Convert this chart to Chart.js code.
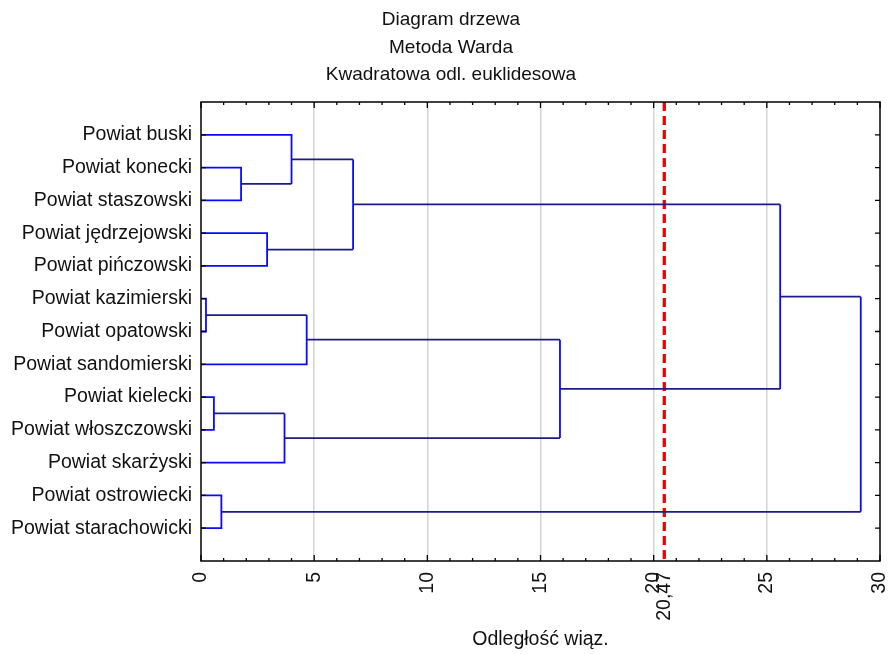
<!DOCTYPE html>
<html>
<head>
<meta charset="utf-8">
<script src="https://cdn.jsdelivr.net/npm/chart.js@4.4.1/dist/chart.umd.min.js"></script>
<style>
  html, body { margin: 0; padding: 0; background: #fff; }
  #wrap { width: 888px; height: 654px; }
</style>
</head>
<body>
<div id="wrap"><canvas id="myChart" width="888" height="654"></canvas></div>
<script>
// leaves, top to bottom
const leafLabels = [
    'Powiat buski', 'Powiat konecki', 'Powiat staszowski', 'Powiat jędrzejowski',
    'Powiat pińczowski', 'Powiat kazimierski', 'Powiat opatowski', 'Powiat sandomierski',
    'Powiat kielecki', 'Powiat włoszczowski', 'Powiat skarżyski', 'Powiat ostrowiecki',
    'Powiat starachowicki'
];
// merges: node ids 0-12 are leaves, every merge makes a new node (13, 14, ...)
const mergeLeft   = [1, 0, 3, 14, 5, 17, 8, 19, 18, 16, 11, 22];
const mergeRight  = [2, 13, 4, 15, 6, 7, 9, 10, 20, 21, 12, 23];
const mergeHeight = [1.77, 4.0, 2.92, 6.72, 0.22, 4.67, 0.57, 3.69, 15.86, 25.59, 0.9, 29.15];
const xTicks = [0, 5, 10, 15, 20, 25, 30];
const cutValue = 20.47;
const cutLabel = '20,47';
const titleLines = ['Diagram drzewa', 'Metoda Warda', 'Kwadratowa odl. euklidesowa'];

const font = "'Liberation Sans', Arial, sans-serif";
const blue = '#0a0aff';
const navy = '#1c1c86';

// node positions (row and height)
const nodeY = leafLabels.map((_, i) => i + 1);
const nodeH = leafLabels.map(() => 0);
mergeLeft.forEach(function(l, k) {
    const r = mergeRight[k];
    nodeY.push((nodeY[l] + nodeY[r]) / 2);
    nodeH.push(mergeHeight[k]);
});

const datasets = mergeLeft.map(function(l, k) {
    const r = mergeRight[k];
    const h = mergeHeight[k];
    const lInner = l >= leafLabels.length;
    const rInner = r >= leafLabels.length;
    return {
        data: [
            { x: nodeH[l], y: nodeY[l] },
            { x: h, y: nodeY[l] },
            { x: h, y: nodeY[r] },
            { x: nodeH[r], y: nodeY[r] }
        ],
        showLine: true,
        borderColor: blue,
        borderWidth: 1.8,
        pointRadius: 0,
        segment: {
            borderColor: function(ctx) {
                if (ctx.p0DataIndex === 0 && lInner) return navy;
                if (ctx.p0DataIndex === 2 && rInner) return navy;
                return blue;
            }
        }
    };
});

// cut line
datasets.push({
    data: [{ x: cutValue, y: 0 }, { x: cutValue, y: leafLabels.length + 1 }],
    showLine: true,
    borderColor: '#ee0000',
    borderWidth: 3.2,
    borderDash: [9, 5],
    pointRadius: 0
});

// frame, inside tick marks and the three-line title
const framePlugin = {
    id: 'frame',
    afterDatasetsDraw(chart) {
        const ctx = chart.ctx;
        const a = chart.chartArea;
        const xs = chart.scales.x;
        const ys = chart.scales.y;
        ctx.save();
        ctx.strokeStyle = '#000';
        ctx.lineWidth = 1.5;
        ctx.strokeRect(a.left, a.top, a.right - a.left, a.bottom - a.top);
        ctx.lineWidth = 1.3;
        ctx.beginPath();
        for (let v = 0; v <= 30; v++) {
            const px = xs.getPixelForValue(v);
            const len = v % 5 === 0 ? 6 : 3;
            ctx.moveTo(px, a.top); ctx.lineTo(px, a.top + len);
            ctx.moveTo(px, a.bottom); ctx.lineTo(px, a.bottom - len);
        }
        for (let i = 1; i <= leafLabels.length; i++) {
            const py = ys.getPixelForValue(i);
            ctx.moveTo(a.left, py); ctx.lineTo(a.left + 5, py);
            ctx.moveTo(a.right, py); ctx.lineTo(a.right - 5, py);
        }
        ctx.stroke();

        // title
        ctx.fillStyle = '#111';
        ctx.font = '19px ' + font;
        ctx.textAlign = 'center';
        ctx.textBaseline = 'middle';
        titleLines.forEach(function(t, i) {
            ctx.fillText(t, chart.width / 2 + 7, 20 + i * 27.5);
        });
        ctx.restore();
    }
};

new Chart(document.getElementById('myChart').getContext('2d'), {
    type: 'scatter',
    data: { datasets: datasets },
    plugins: [framePlugin],
    options: {
        responsive: false,
        animation: false,
        clip: false,
        layout: { padding: { left: 0, right: 8, top: 102, bottom: 0 } },
        plugins: {
            legend: { display: false },
            tooltip: { enabled: false },
            title: { display: false }
        },
        scales: {
            x: {
                type: 'linear',
                min: 0,
                max: 30,
                afterBuildTicks: function(scale) {
                    scale.ticks = xTicks.map(v => ({ value: v })).concat([{ value: cutValue }]);
                },
                afterFit: function(scale) { scale.height = 93; },
                ticks: {
                    color: '#111',
                    font: { family: font, size: 19.5 },
                    minRotation: 90,
                    maxRotation: 90,
                    padding: 11,
                    autoSkip: false,
                    callback: function(v) { return v === cutValue ? cutLabel : String(v); }
                },
                grid: {
                    drawTicks: false,
                    lineWidth: 1.5,
                    color: function(c) {
                        const v = c.tick ? c.tick.value : null;
                        if (v === cutValue || v === 0 || v === 30) return 'rgba(0,0,0,0)';
                        return '#d4d4d4';
                    }
                },
                border: { display: false },
                title: {
                    display: true,
                    text: 'Odległość wiąz.',
                    color: '#111',
                    font: { family: font, size: 19.5 },
                    padding: { top: 0, bottom: 3 }
                }
            },
            y: {
                type: 'linear',
                reverse: true,
                min: 0,
                max: leafLabels.length + 1,
                afterBuildTicks: function(scale) {
                    scale.ticks = leafLabels.map((_, i) => ({ value: i + 1 }));
                },
                afterFit: function(scale) { scale.width = 201; },
                ticks: {
                    color: '#111',
                    font: { family: font, size: 19.5 },
                    padding: 9,
                    autoSkip: false,
                    callback: function(v) { return leafLabels[v - 1] || ''; }
                },
                grid: { display: false, drawTicks: false },
                border: { display: false }
            }
        }
    }
});
</script>
</body>
</html>
